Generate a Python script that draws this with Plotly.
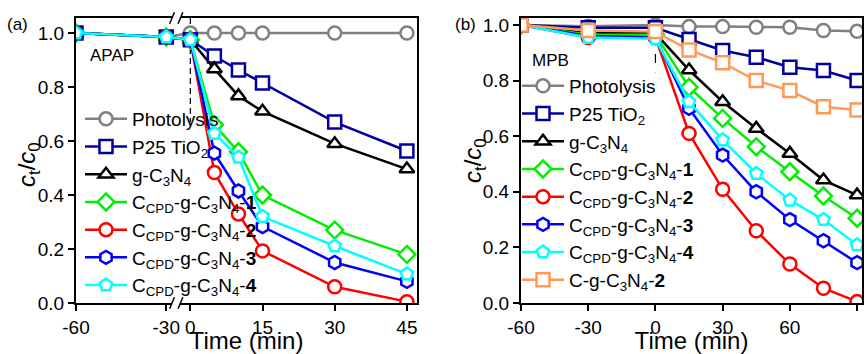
import plotly.graph_objects as go

# ---------------- data ----------------
time_a = [-60, -30, 0, 5, 10, 15, 30, 45]
a_photolysis = [1.0, 0.985, 1.0, 1.0, 1.0, 1.0, 1.0, 1.0]
a_p25 = [1.0, 0.985, 0.975, 0.915, 0.863, 0.815, 0.67, 0.563]
a_gcn = [1.0, 0.985, 0.975, 0.867, 0.767, 0.71, 0.59, 0.496]
a_cpd1 = [1.0, 0.985, 0.975, 0.66, 0.56, 0.40, 0.27, 0.18]
a_cpd2 = [1.0, 0.985, 0.975, 0.483, 0.33, 0.193, 0.06, 0.005]
a_cpd3 = [1.0, 0.985, 0.975, 0.555, 0.415, 0.283, 0.15, 0.08]
a_cpd4 = [1.0, 0.985, 0.975, 0.628, 0.54, 0.32, 0.211, 0.107]

time_b = [-60, -30, 0, 15, 30, 45, 60, 75, 90]
b_photolysis = [1.0, 0.995, 1.0, 0.994, 0.994, 0.992, 0.992, 0.98, 0.977]
b_p25 = [1.0, 0.99, 0.99, 0.948, 0.908, 0.884, 0.848, 0.836, 0.80]
b_gcn = [1.0, 0.97, 0.97, 0.838, 0.724, 0.628, 0.538, 0.442, 0.388]
b_cpd1 = [1.0, 0.965, 0.965, 0.776, 0.664, 0.562, 0.472, 0.385, 0.305]
b_cpd2 = [1.0, 0.955, 0.955, 0.61, 0.409, 0.26, 0.14, 0.053, 0.005]
b_cpd3 = [1.0, 0.96, 0.955, 0.70, 0.532, 0.40, 0.30, 0.224, 0.145]
b_cpd4 = [1.0, 0.955, 0.95, 0.724, 0.586, 0.466, 0.37, 0.30, 0.209]
b_cg2 = [1.0, 0.98, 0.976, 0.91, 0.864, 0.80, 0.764, 0.706, 0.694]

xticks_a = [-60, -30, 0, 15, 30, 45]
xticks_b = [-60, -30, 0, 30, 60, 90]
yticks = [0.0, 0.2, 0.4, 0.6, 0.8, 1.0]

names_a = ["Photolysis", "P25 TiO<sub>2</sub>", "g-C<sub>3</sub>N<sub>4</sub>",
           "C<sub>CPD</sub>-g-C<sub>3</sub>N<sub>4</sub>-<b>1</b>",
           "C<sub>CPD</sub>-g-C<sub>3</sub>N<sub>4</sub>-<b>2</b>",
           "C<sub>CPD</sub>-g-C<sub>3</sub>N<sub>4</sub>-<b>3</b>",
           "C<sub>CPD</sub>-g-C<sub>3</sub>N<sub>4</sub>-<b>4</b>"]
names_b = names_a + ["C-g-C<sub>3</sub>N<sub>4</sub>-<b>2</b>"]

colors = ["#808080", "#0000A0", "#000000", "#00EE00", "#FF0000", "#0000FF", "#00FFFF", "#FF9955"]
symbols = ["circle", "square", "triangle-up", "diamond", "circle", "hexagon", "pentagon", "square"]

# broken axis for panel (a): pre-break segment compressed
BREAK_T = -30
BREAK_U = -5.0
LEFT_SCALE = 0.625


def map_a(t):
    return t if t >= 0 else BREAK_U + (t - BREAK_T) * LEFT_SCALE


FONT = "Liberation Sans, Arial, sans-serif"
W, H = 867, 354

fig = go.Figure()

series_a = [a_photolysis, a_p25, a_gcn, a_cpd1, a_cpd2, a_cpd3, a_cpd4]
series_b = [b_photolysis, b_p25, b_gcn, b_cpd1, b_cpd2, b_cpd3, b_cpd4, b_cg2]

for i, ys in enumerate(series_a):
    fig.add_trace(go.Scatter(
        x=[map_a(t) for t in time_a], y=ys, name=names_a[i], mode="lines+markers",
        xaxis="x", yaxis="y", legend="legend", legendgroup="a%d" % i,
        line=dict(color=colors[i], width=2.5),
        marker=dict(symbol=symbols[i], size=13, color="white",
                    line=dict(color=colors[i], width=2.5))))

for i, ys in enumerate(series_b):
    fig.add_trace(go.Scatter(
        x=time_b, y=ys, name=names_b[i], mode="lines+markers",
        xaxis="x2", yaxis="y2", legend="legend2", legendgroup="b%d" % i,
        line=dict(color=colors[i], width=2.5),
        marker=dict(symbol=symbols[i], size=13, color="white",
                    line=dict(color=colors[i], width=2.5))))

axis_common = dict(showline=True, linewidth=2, linecolor="black", mirror=True,
                   ticks="outside", ticklen=6, tickwidth=2, tickcolor="black",
                   showgrid=False, zeroline=False, automargin=False,
                   tickfont=dict(family=FONT, size=19, color="black"))

ydom = [1 - 303 / H, 1 - 18 / H]

fig.update_layout(
    width=W, height=H,
    margin=dict(l=0, r=0, t=0, b=0),
    paper_bgcolor="white", plot_bgcolor="white",
    font=dict(family=FONT, color="black"),
    xaxis=dict(domain=[76 / W, 417 / W], range=[map_a(-60), 47.1],
               tickmode="array", tickvals=[map_a(t) for t in xticks_a],
               ticktext=[str(t) for t in xticks_a],
               title=dict(text="Time (min)", font=dict(family=FONT, size=24), standoff=7),
               **axis_common),
    yaxis=dict(domain=ydom, range=[0, 1.0556], tickmode="array", tickvals=yticks,
               ticktext=["%.1f" % v for v in yticks], **axis_common),
    xaxis2=dict(domain=[521 / W, 862 / W], range=[-60, 92.2], anchor="y2",
                tickmode="array", tickvals=xticks_b, ticktext=[str(t) for t in xticks_b],
                title=dict(text="Time (min)", font=dict(family=FONT, size=24), standoff=7),
                **axis_common),
    yaxis2=dict(domain=ydom, range=[0, 1.025], anchor="x2", tickmode="array",
                tickvals=yticks, ticktext=["%.1f" % v for v in yticks], **axis_common),
    legend=dict(x=80 / W, y=1 - 100 / H, xanchor="left", yanchor="top",
                bgcolor="rgba(0,0,0,0)", font=dict(family=FONT, size=19),
                itemwidth=42, tracegroupgap=0, traceorder="grouped"),
    legend2=dict(x=517 / W, y=1 - 67 / H, xanchor="left", yanchor="top",
                 bgcolor="rgba(0,0,0,0)", font=dict(family=FONT, size=19),
                 itemwidth=42, tracegroupgap=0, traceorder="grouped"),
    showlegend=True,
)

shapes = []
# dashed vertical markers at t = 0
shapes.append(dict(type="line", xref="x", yref="y", x0=0, x1=0, y0=1.0556, y1=0.67,
                   line=dict(color="black", width=1.2, dash="6px,4px"), layer="below"))
shapes.append(dict(type="line", xref="x2", yref="y2", x0=0, x1=0, y0=1.025, y1=0.83,
                   line=dict(color="black", width=1.2, dash="9px,9px"), layer="below"))

# axis break marks on panel (a)
d = 0.02
u1a, u1b = -4.3, -3.3
u2a, u2b = -2.55, -1.55
for yc in (0, 1):
    shapes.append(dict(type="path", xref="x", yref="y domain",
                       path="M %f,%f L %f,%f L %f,%f L %f,%f Z" % (
                           u1a, yc - d, u2a, yc - d, u2b, yc + d, u1b, yc + d),
                       fillcolor="white", line=dict(width=0), layer="above"))
    for ua, ub in ((u1a, u1b), (u2a, u2b)):
        shapes.append(dict(type="line", xref="x", yref="y domain",
                           x0=ua, x1=ub, y0=yc - d, y1=yc + d,
                           line=dict(color="black", width=1.5), layer="above"))
fig.update_layout(shapes=shapes)

ann = []
for txt, x, y in (("(a)", 17, 25), ("(b)", 466, 25)):
    ann.append(dict(text=txt, xref="paper", yref="paper", x=x / W, y=1 - y / H,
                    showarrow=False, xanchor="center", yanchor="middle",
                    font=dict(family=FONT, size=17, color="black")))
ytitle = "<i>c</i><sub>t</sub>/<i>c</i><sub>0</sub>"
for x, y in ((29, 164), (474, 161)):
    ann.append(dict(text=ytitle, xref="paper", yref="paper", x=x / W, y=1 - y / H,
                    showarrow=False, xanchor="center", yanchor="middle", textangle=-90,
                    font=dict(family=FONT, size=24, color="black")))
ann.append(dict(text="APAP", xref="x domain", yref="y domain", x=0.035, y=1 - (56 - 18) / 285,
                showarrow=False, xanchor="left", yanchor="middle",
                font=dict(family=FONT, size=17, color="black")))
ann.append(dict(text="MPB", xref="x2 domain", yref="y2 domain", x=0.025, y=1 - (60 - 18) / 285,
                showarrow=False, xanchor="left", yanchor="middle",
                font=dict(family=FONT, size=17, color="black")))
fig.update_layout(annotations=ann)

fig.write_html("out.html", config={"displayModeBar": False},
               post_script="document.body.style.margin='0';")
